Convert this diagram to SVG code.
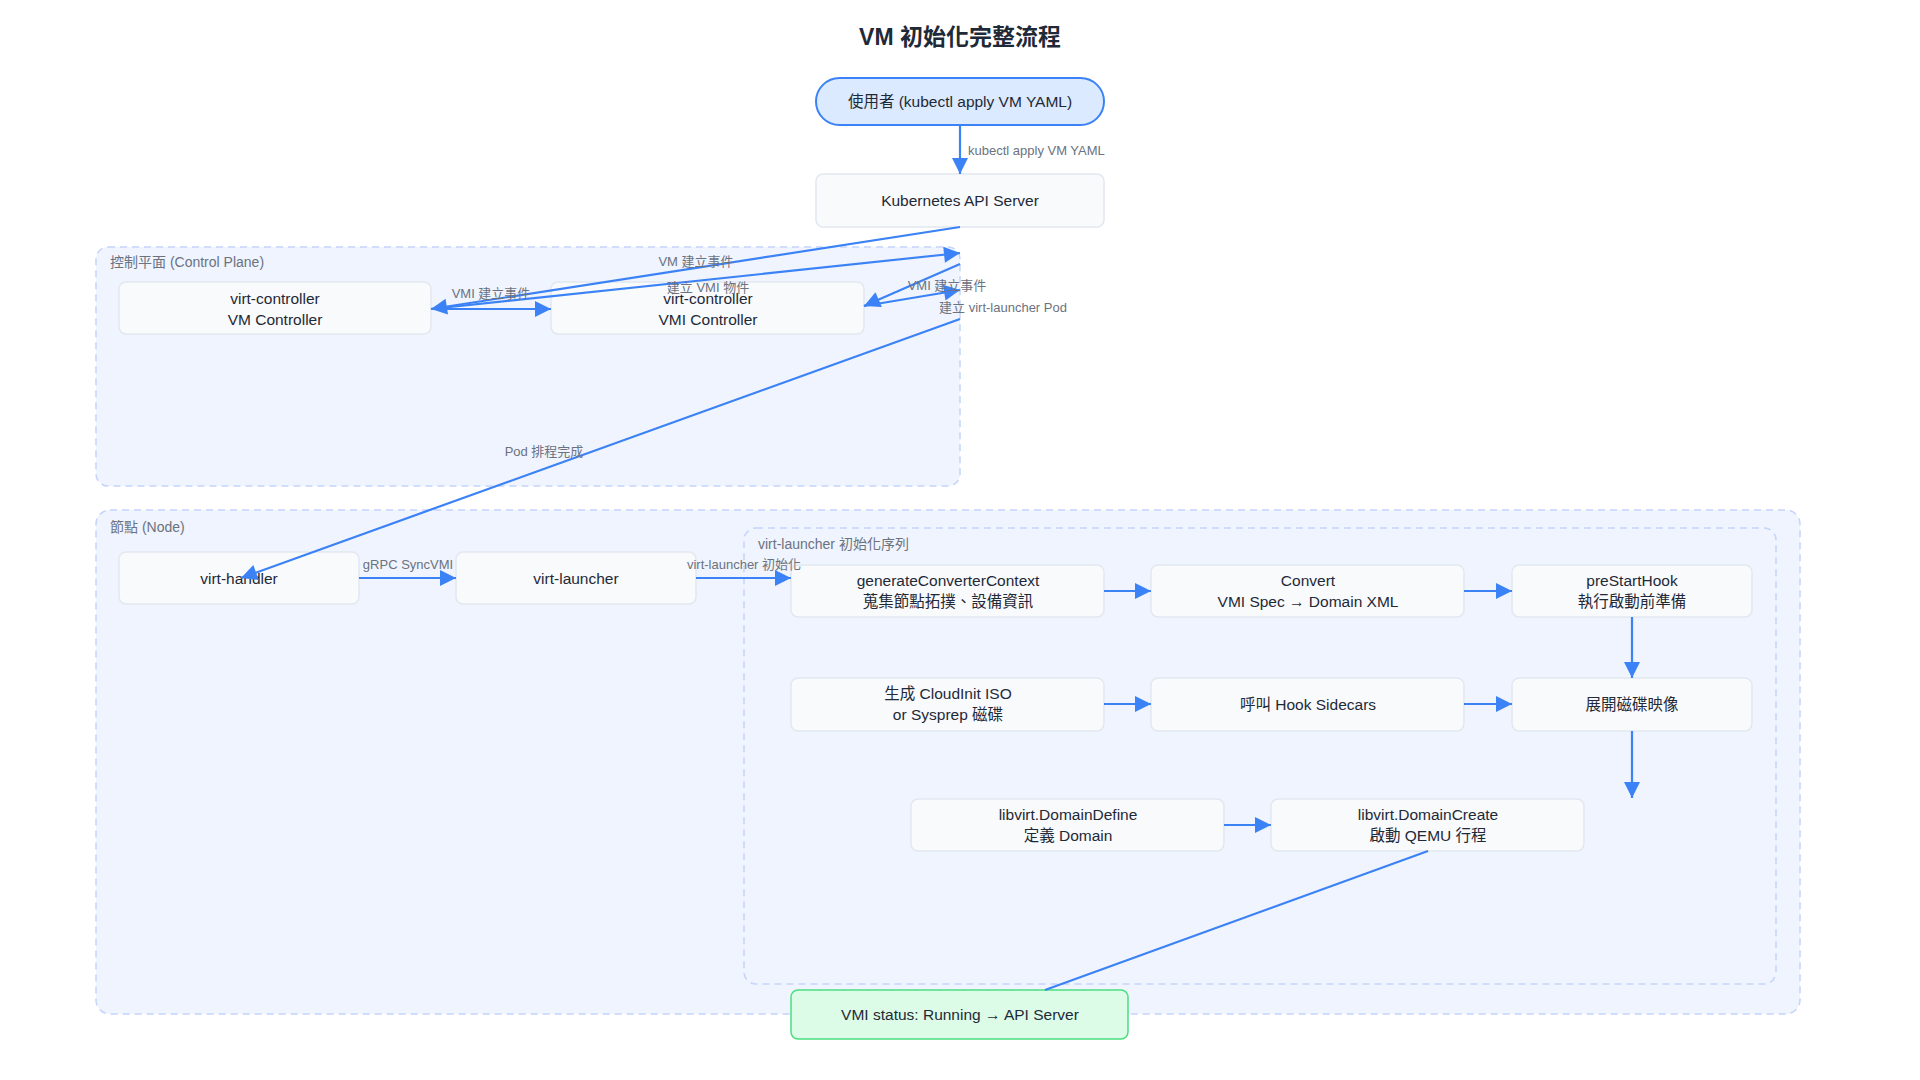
<svg xmlns="http://www.w3.org/2000/svg" width="1920" height="1080" viewBox="0 0 1920 1080">
<defs>
<marker id="ah" viewBox="0 0 10 10" refX="10" refY="5" markerWidth="8" markerHeight="8" markerUnits="userSpaceOnUse" orient="auto" style="overflow:visible"><path d="M0,0 L10,5 L0,10 z" fill="#3b82f6" transform="scale(2)translate(-5,-2.5)"/></marker>
<style>
text{font-family:"Liberation Sans","Noto Sans CJK TC",sans-serif}
.grp{fill:#eff4fe;stroke:#c5d4fb;stroke-width:1.5;stroke-dasharray:7 5}
.gl{font-size:14px;fill:#6b7280}
.n rect{fill:#f8fafc;stroke:#e2e8f0;stroke-width:1.5}
.n text{font-size:15.5px;fill:#1f2937;text-anchor:middle}
.e{stroke:#3b82f6;stroke-width:2.2;fill:none}
.el{font-size:13px;fill:#6b7280}
</style>
</defs>
<rect width="1920" height="1080" fill="#fff"/>
<text x="960" y="45" text-anchor="middle" font-size="23" font-weight="bold" fill="#1f2937">VM 初始化完整流程</text>
<g id="cp"><rect class="grp" x="96" y="247" width="864" height="239" rx="12"/><text class="gl" x="110" y="267">控制平面 (Control Plane)</text></g>
<g id="nodegrp"><rect class="grp" x="96" y="510" width="1704" height="504" rx="14"/><text class="gl" x="110" y="532">節點 (Node)</text></g>
<g id="seq"><rect class="grp" x="744" y="528" width="1032" height="456" rx="12"/><text class="gl" x="758" y="549">virt-launcher 初始化序列</text></g>

<g id="user"><rect x="816" y="78" width="288" height="47" rx="23.5" fill="#dbeafe" stroke="#3b82f6" stroke-width="2"/><text x="960" y="107" text-anchor="middle" font-size="15.5" fill="#1f2937">使用者 (kubectl apply VM YAML)</text></g>
<g id="api" class="n"><rect x="816" y="174" width="288" height="53" rx="7"/><text x="960" y="206">Kubernetes API Server</text></g>
<g id="vmc" class="n"><rect x="119" y="282" width="312" height="52" rx="7"/><text x="275" y="304">virt-controller</text><text x="275" y="325">VM Controller</text></g>
<g id="vmic" class="n"><rect x="551" y="282" width="313" height="52" rx="7"/><text x="708" y="304">virt-controller</text><text x="708" y="325">VMI Controller</text></g>
<g id="handler" class="n"><rect x="119" y="552" width="240" height="52" rx="7"/><text x="239" y="584">virt-handler</text></g>
<g id="launcher" class="n"><rect x="456" y="552" width="240" height="52" rx="7"/><text x="576" y="584">virt-launcher</text></g>
<g id="gcc" class="n"><rect x="791" y="565" width="313" height="52" rx="7"/><text x="948" y="586">generateConverterContext</text><text x="948" y="607">蒐集節點拓撲、設備資訊</text></g>
<g id="conv" class="n"><rect x="1151" y="565" width="313" height="52" rx="7"/><text x="1308" y="586">Convert</text><text x="1308" y="607">VMI Spec → Domain XML</text></g>
<g id="pre" class="n"><rect x="1512" y="565" width="240" height="52" rx="7"/><text x="1632" y="586">preStartHook</text><text x="1632" y="607">執行啟動前準備</text></g>
<g id="ci" class="n"><rect x="791" y="678" width="313" height="53" rx="7"/><text x="948" y="699">生成 CloudInit ISO</text><text x="948" y="720">or Sysprep 磁碟</text></g>
<g id="hook" class="n"><rect x="1151" y="678" width="313" height="53" rx="7"/><text x="1308" y="710">呼叫 Hook Sidecars</text></g>
<g id="disk" class="n"><rect x="1512" y="678" width="240" height="53" rx="7"/><text x="1632" y="710">展開磁碟映像</text></g>
<g id="def" class="n"><rect x="911" y="799" width="313" height="52" rx="7"/><text x="1068" y="820">libvirt.DomainDefine</text><text x="1068" y="841">定義 Domain</text></g>
<g id="create" class="n"><rect x="1271" y="799" width="313" height="52" rx="7"/><text x="1428" y="820">libvirt.DomainCreate</text><text x="1428" y="841">啟動 QEMU 行程</text></g>
<g id="status"><rect x="791" y="990" width="337" height="49" rx="7" fill="#dcfce7" stroke="#4ade80" stroke-width="1.5"/><text x="960" y="1020" text-anchor="middle" font-size="15.5" fill="#1f2937">VMI status: Running → API Server</text></g>

<g id="connectors">
<path class="e" d="M960,125 V174" marker-end="url(#ah)"/>
<path class="e" d="M960,227 L431,309" marker-end="url(#ah)"/>
<path class="e" d="M431,309 L960,253" marker-end="url(#ah)"/>
<path class="e" d="M431,309 L551,309" marker-end="url(#ah)"/>
<path class="e" d="M960,264 L864,306" marker-end="url(#ah)"/>
<path class="e" d="M864,306 L960,290" marker-end="url(#ah)"/>
<path class="e" d="M960,319 L241,578" marker-end="url(#ah)"/>
<path class="e" d="M359,578 L456,578" marker-end="url(#ah)"/>
<path class="e" d="M696,578 L791,578" marker-end="url(#ah)"/>
<path class="e" d="M1104,591 L1151,591" marker-end="url(#ah)"/>
<path class="e" d="M1464,591 L1512,591" marker-end="url(#ah)"/>
<path class="e" d="M1632,617 V678" marker-end="url(#ah)"/>
<path class="e" d="M1104,704 L1151,704" marker-end="url(#ah)"/>
<path class="e" d="M1464,704 L1512,704" marker-end="url(#ah)"/>
<path class="e" d="M1632,731 V798" marker-end="url(#ah)"/>
<path class="e" d="M1224,825 L1271,825" marker-end="url(#ah)"/>
<path class="e" d="M1428,851 L1045,990"/>
<text class="el" x="968" y="155">kubectl apply VM YAML</text>
<text class="el" x="696" y="266" text-anchor="middle">VM 建立事件</text>
<text class="el" x="491" y="298" text-anchor="middle">VMI 建立事件</text>
<text class="el" x="708" y="292" text-anchor="middle">建立 VMI 物件</text>
<text class="el" x="947" y="290" text-anchor="middle">VMI 建立事件</text>
<text class="el" x="1003" y="312" text-anchor="middle">建立 virt-launcher Pod</text>
<text class="el" x="544" y="456" text-anchor="middle">Pod 排程完成</text>
<text class="el" x="408" y="569" text-anchor="middle">gRPC SyncVMI</text>
<text class="el" x="744" y="569" text-anchor="middle">virt-launcher 初始化</text>
</g>
</svg>
